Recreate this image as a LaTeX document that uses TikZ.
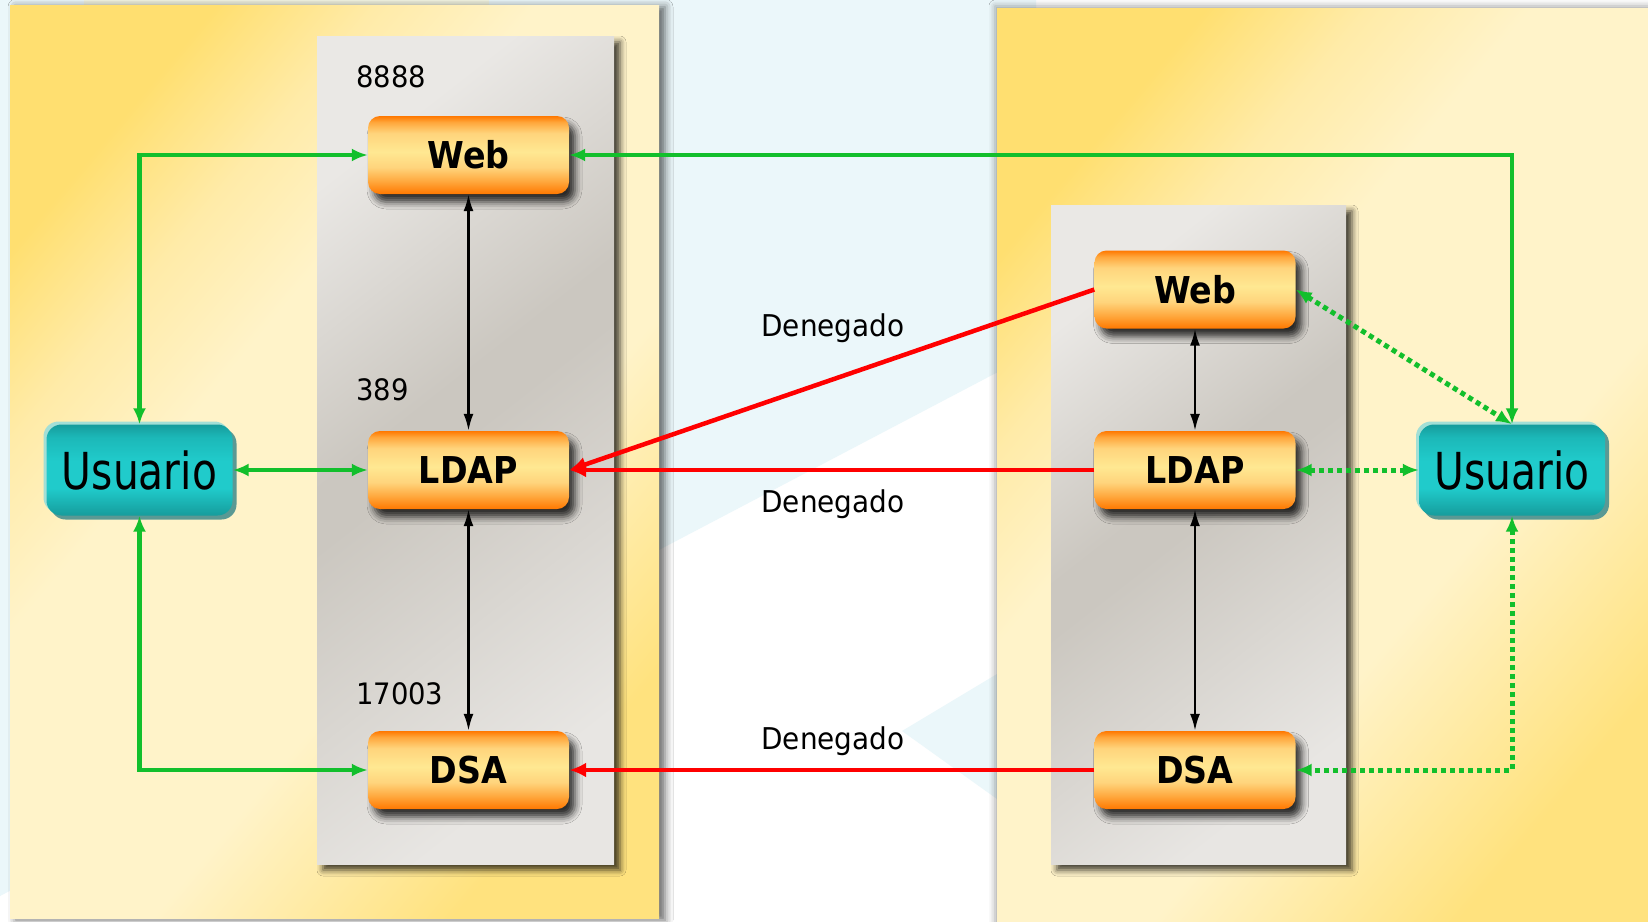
\documentclass[tikz,border=0pt]{standalone}
\usepackage{fontspec}
\setmainfont{DejaVu Sans}
\newfontfamily\boxfont[FakeStretch=0.9]{DejaVu Sans}
\newfontfamily\usrfont[FakeStretch=0.8]{DejaVu Sans}
\newfontfamily\lblfont[FakeStretch=0.93]{DejaVu Sans}
\usetikzlibrary{arrows.meta,shadows,shadows.blur}

\definecolor{bgcyan}{HTML}{EBF7FA}
\definecolor{bgcream}{HTML}{F3F5E2}
\definecolor{ylA}{HTML}{FFDF70}
\definecolor{ylB}{HTML}{FFEBA8}
\definecolor{ylC}{HTML}{FFF3C9}
\definecolor{ylD}{HTML}{FFE27E}
\definecolor{gyA}{HTML}{EAE8E5}
\definecolor{gyB}{HTML}{CBC7C0}
\definecolor{gyC}{HTML}{E8E6E3}
\definecolor{orA}{HTML}{FF7800}
\definecolor{orB}{HTML}{FFA73C}
\definecolor{orC}{HTML}{FFD47C}
\definecolor{orD}{HTML}{FFE892}
\definecolor{tlA}{HTML}{169C9C}
\definecolor{tlB}{HTML}{20CBCB}
\definecolor{tlM}{HTML}{1CB8B8}
\definecolor{tlLight}{HTML}{A3DFD6}
\definecolor{tlDark}{HTML}{5A9994}
\definecolor{lgreen}{HTML}{12BF2C}
\definecolor{lred}{HTML}{FF0000}

\pgfdeclarehorizontalshading{yellowshade}{100bp}{color(0bp)=(ylA); color(25bp)=(ylA); color(33bp)=(ylB); color(41bp)=(ylC); color(60bp)=(ylC); color(75bp)=(ylD); color(100bp)=(ylD)}
\pgfdeclarehorizontalshading{grayshade}{100bp}{color(0bp)=(gyA); color(25bp)=(gyA); color(45bp)=(gyB); color(49bp)=(gyB); color(75bp)=(gyC); color(100bp)=(gyC)}
\pgfdeclareverticalshading{orangeshade}{100bp}{color(0bp)=(orA); color(25bp)=(orA); color(33bp)=(orB); color(42bp)=(orC); color(52bp)=(orD); color(64bp)=(orC); color(71bp)=(orB); color(75bp)=(orA); color(100bp)=(orA)}
\pgfdeclareverticalshading{tealshade}{100bp}{color(0bp)=(tlA); color(25bp)=(tlA); color(40bp)=(tlB); color(55bp)=(tlB); color(68bp)=(tlM); color(75bp)=(tlA); color(100bp)=(tlA)}

\begin{document}
\begin{tikzpicture}[x=1pt,y=-1pt,
  ypanel/.style={shade, shading=yellowshade, shading angle=-40},
  gpanel/.style={shade, shading=grayshade, shading angle=-52,
    blur shadow={shadow xshift=6pt, shadow yshift=-6pt, shadow blur radius=6pt, shadow opacity=75}},
  obox/.style={shade, shading=orangeshade, rounded corners=12pt,
    minimum width=201pt, minimum height=78pt, inner sep=0pt,
    font=\boxfont\bfseries\fontsize{37}{40}\selectfont,
    blur shadow={shadow xshift=6pt, shadow yshift=-8pt, shadow blur radius=7pt, shadow opacity=80}},
  ubox/.style={shade, shading=tealshade, rounded corners=15pt,
    minimum width=186pt, minimum height=91pt, inner sep=0pt,
    font=\usrfont\fontsize{51}{55}\selectfont,
    general shadow={fill=tlLight, shadow xshift=-3pt, shadow yshift=3pt},
    general shadow={fill=tlDark, shadow xshift=4pt, shadow yshift=-4pt}},
  numlbl/.style={anchor=west, inner sep=0pt, font=\lblfont\fontsize{29.5}{32}\selectfont},
  denlbl/.style={inner sep=0pt, font=\lblfont\fontsize{30}{32}\selectfont},
  gline/.style={draw=lgreen, line width=4.5pt, {Latex[length=16pt,width=13pt]}-{Latex[length=16pt,width=13pt]}},
  gdot/.style={gline, line width=5pt, dash pattern=on 5pt off 4pt},
  rline/.style={draw=lred, line width=4.5pt, -{Latex[length=17pt,width=15pt]}},
  bline/.style={draw=black, line width=2.3pt, {Latex[length=17pt,width=10pt]}-{Latex[length=17pt,width=10pt]}}
]
\useasboundingbox (0,0) rectangle (1648,921);
\fill[white] (0,0) rectangle (1648,921);
% background shapes
\fill[bgcyan] (0,0) -- (1036,0) -- (1036,352) -- (0,896) -- cycle;
\fill[bgcream] (84,0) rectangle (489,6);
\fill[bgcyan] (997,674) -- (902,731) -- (997,799) -- cycle;

% yellow panels
\path[ypanel, blur shadow={shadow xshift=6pt, shadow yshift=-2pt, shadow blur radius=8pt, shadow opacity=60}] (10,5) rectangle (659,918);
\path[ypanel, blur shadow={shadow xshift=-2pt, shadow yshift=2pt, shadow blur radius=6pt, shadow opacity=35}] (997,8) rectangle (1660,930);

% gray panels
\path[gpanel] (317,36) rectangle (614,864);
\path[gpanel] (1051,205) rectangle (1346,864);

% nodes
\node[obox] (lweb)  at (468.5,155) {Web};
\node[obox] (lldap) at (468.5,470) {LDAP};
\node[obox] (ldsa)  at (468.5,770) {DSA};
\node[obox] (rweb)  at (1195,289.5) {Web};
\node[obox] (rldap) at (1195,470) {LDAP};
\node[obox] (rdsa)  at (1195,770) {DSA};
\node[ubox] (lus) at (139.5,470) {Usuario};
\node[ubox] (rus) at (1512,470) {Usuario};

% labels
\node[numlbl] (n8888) at (356,77) {8888};
\node[numlbl] (n389) at (356,390) {389};
\node[numlbl] (n17003) at (356,694) {17003};
\node[denlbl] (d1) at (833,328) {Denegado};
\node[denlbl] (d2) at (833,504) {Denegado};
\node[denlbl] (d3) at (833,741) {Denegado};

% black links
\draw[bline] (lweb.south) -- (lldap.north);
\draw[bline] (lldap.south) -- (ldsa.north);
\draw[bline] (rweb.south) -- (rldap.north);
\draw[bline] (rldap.south) -- (rdsa.north);

% green links left
\draw[gline] (lus.north) |- (lweb.west);
\draw[gline] (lus.east) -- (lldap.west);
\draw[gline] (lus.south) |- (ldsa.west);
\draw[gline] (rus.north) |- (lweb.east);

% red denied links
\draw[rline] (rweb.west) -- (lldap.east);
\draw[rline] (rldap.west) -- (lldap.east);
\draw[rline] (rdsa.west) -- (ldsa.east);

% dotted green links right
\draw[gdot] (rweb.east) -- (rus.north);
\draw[gdot] (rldap.east) -- (rus.west);
\draw[gdot] (rus.south) |- (rdsa.east);
\end{tikzpicture}
\end{document}
